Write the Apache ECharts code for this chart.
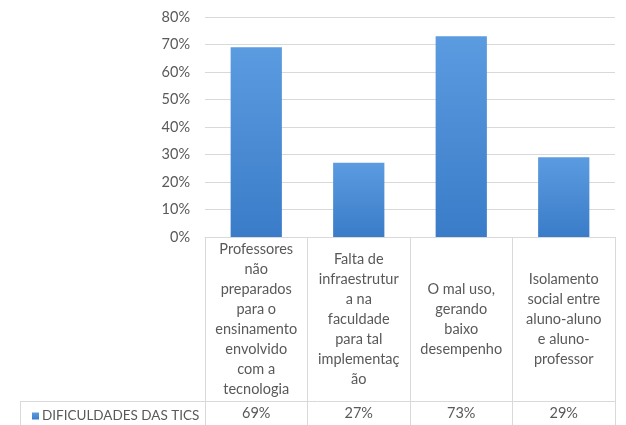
<!DOCTYPE html>
<html>
<head>
<meta charset="utf-8">
<script src="https://cdn.jsdelivr.net/npm/echarts@6/dist/echarts.min.js"></script>
<style>
  html, body { margin: 0; padding: 0; background: #ffffff; }
  #chart { width: 626px; height: 425px; }
</style>
</head>
<body>
<div id="chart"></div>
<script>
var categories = [
  "Professores\nnão\npreparados\npara o\nensinamento\nenvolvido\ncom a\ntecnologia",
  "Falta de\ninfraestrutur\na na\nfaculdade\npara tal\nimplementaç\não",
  "O mal uso,\ngerando\nbaixo\ndesempenho",
  "Isolamento\nsocial entre\naluno-aluno\ne aluno-\nprofessor"
];
var seriesName = "DIFICULDADES DAS TICS";
var values = [69, 27, 73, 29];
var yTicks = [0, 10, 20, 30, 40, 50, 60, 70, 80];

var textColor = "#595959";
var lineColor = "#d9d9d9";
var fontFamily = "Lato, 'Liberation Sans', sans-serif";
var fs = 14.5;

var chart = echarts.init(document.getElementById("chart"), null, { renderer: "canvas" });
chart.setOption({
  animation: false,
  backgroundColor: "#ffffff",
  textStyle: { fontFamily: fontFamily },
  grid: { left: 205, right: 11, top: 17, bottom: 188, containLabel: false },
  legend: {
    data: [seriesName],
    left: 27, top: 404,
    icon: "rect", itemWidth: 7, itemHeight: 7, itemGap: 4,
    textStyle: { color: textColor, fontSize: 13.5, fontFamily: fontFamily, padding: [0, 0, 0, -2] }
  },
  xAxis: [
    {
      type: "category",
      data: categories,
      axisLine: { show: true, lineStyle: { color: lineColor, width: 1 } },
      axisTick: { show: true, length: 188, lineStyle: { color: lineColor, width: 1 } },
      axisLabel: {
        color: textColor, fontSize: fs, fontFamily: fontFamily,
        lineHeight: 20, verticalAlign: "middle", margin: 82, interval: 0
      },
      splitLine: { show: false }
    },
    {
      type: "category",
      position: "bottom",
      data: values.map(function (v) { return v + "%"; }),
      axisLine: { show: false },
      axisTick: { show: false },
      axisLabel: {
        color: textColor, fontSize: fs, fontFamily: fontFamily,
        verticalAlign: "middle", margin: 176, interval: 0
      }
    }
  ],
  yAxis: {
    type: "value",
    min: yTicks[0], max: yTicks[yTicks.length - 1], interval: 10,
    axisLine: { show: false },
    axisTick: { show: false },
    axisLabel: { color: textColor, fontSize: fs, fontFamily: fontFamily, margin: 15, formatter: "{value}%" },
    splitLine: { lineStyle: { color: lineColor, width: 1 } }
  },
  graphic: [
    { type: "line", shape: { x1: 20, y1: 401.5, x2: 615, y2: 401.5 }, style: { stroke: lineColor, lineWidth: 1 }, silent: true },
    { type: "line", shape: { x1: 20.5, y1: 401, x2: 20.5, y2: 425 }, style: { stroke: lineColor, lineWidth: 1 }, silent: true }
  ],
  series: [
    {
      name: seriesName,
      type: "bar",
      xAxisIndex: 0,
      data: values,
      barWidth: "50%",
      itemStyle: {
        color: new echarts.graphic.LinearGradient(0, 0, 0, 1, [
          { offset: 0, color: "#5b9be0" },
          { offset: 1, color: "#3a7cc8" }
        ])
      }
    }
  ]
});
</script>
</body>
</html>
